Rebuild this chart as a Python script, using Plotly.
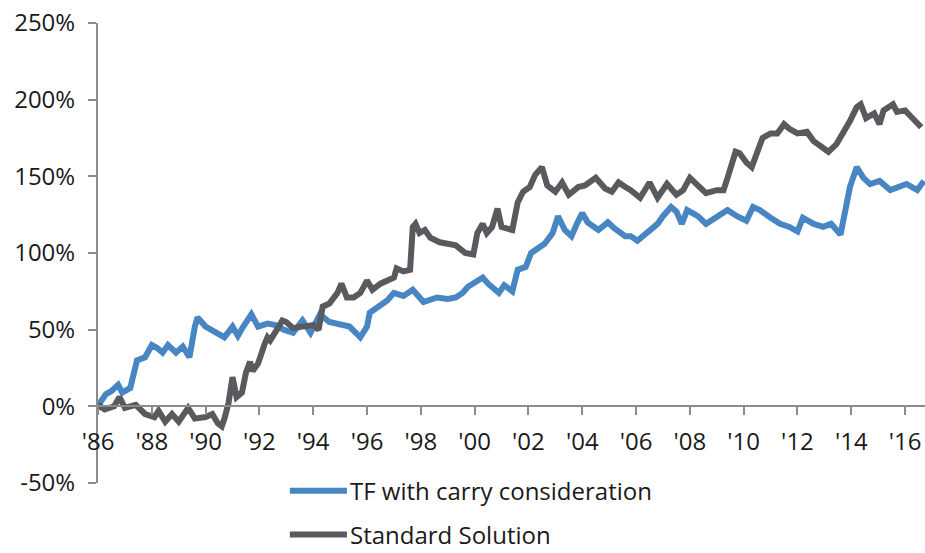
import plotly.graph_objects as go

# Cumulative performance (%), sampled through time (decimal years)
tf_years = [1986.0, 1986.1, 1986.3, 1986.5, 1986.75, 1986.9, 1987.2, 1987.3, 1987.45, 1987.75,
            1988.0, 1988.2, 1988.4, 1988.6, 1988.9, 1989.15, 1989.4, 1989.6, 1989.7, 1990.0,
            1990.35, 1990.7, 1991.0, 1991.2, 1991.4, 1991.7, 1991.95, 1992.3, 1992.6, 1992.9,
            1993.25, 1993.6, 1993.9, 1994.25, 1994.6, 1995.0, 1995.35, 1995.75, 1996.0, 1996.1,
            1996.5, 1996.75, 1997.0, 1997.35, 1997.7, 1998.1, 1998.6, 1999.0, 1999.3, 1999.55,
            1999.75, 2000.0, 2000.3, 2000.5, 2000.9, 2001.1, 2001.4, 2001.6, 2001.9, 2002.1,
            2002.35, 2002.6, 2002.9, 2003.1, 2003.35, 2003.6, 2003.8, 2004.0, 2004.2, 2004.6,
            2004.95, 2005.2, 2005.6, 2005.8, 2006.05, 2006.3, 2006.5, 2006.8, 2007.0, 2007.3,
            2007.5, 2007.7, 2007.9, 2008.3, 2008.6, 2009.0, 2009.4, 2009.75, 2010.1, 2010.35,
            2010.6, 2011.0, 2011.35, 2011.7, 2012.0, 2012.2, 2012.6, 2012.95, 2013.25, 2013.6,
            2013.7, 2013.95, 2014.2, 2014.45, 2014.7, 2015.05, 2015.45, 2015.8, 2016.05, 2016.45,
            2016.7]
tf_values = [-2, 3, 8, 10, 14, 9, 12, 18, 30, 32,
             40, 38, 35, 40, 35, 39, 32, 52, 58, 52,
             48, 45, 52, 46, 52, 60, 52, 54, 53, 50,
             48, 56, 48, 60, 55, 53, 52, 45, 52, 61,
             66, 69, 74, 72, 76, 68, 71, 70, 71, 74,
             78, 81, 84, 80, 74, 79, 75, 89, 91, 100,
             103, 106, 113, 124, 115, 111, 119, 126, 120, 115,
             120, 116, 111, 111, 108, 112, 115, 119, 124, 130,
             127, 119, 128, 124, 119, 124, 128, 124, 121, 130,
             128, 123, 119, 117, 114, 123, 119, 117, 119, 112,
             121, 143, 156, 149, 145, 147, 141, 143, 145, 141,
             147]

std_years = [1986.0, 1986.25, 1986.6, 1986.8, 1987.0, 1987.4, 1987.75, 1988.1, 1988.25, 1988.5,
             1988.75, 1989.0, 1989.35, 1989.6, 1990.0, 1990.25, 1990.45, 1990.6, 1990.7, 1990.85,
             1991.0, 1991.15, 1991.35, 1991.5, 1991.65, 1991.75, 1991.95, 1992.1, 1992.2, 1992.3,
             1992.4, 1992.65, 1992.85, 1993.0, 1993.25, 1993.6, 1994.0, 1994.2, 1994.35, 1994.6,
             1994.9, 1995.05, 1995.25, 1995.5, 1995.75, 1996.0, 1996.2, 1996.5, 1996.75, 1997.0,
             1997.1, 1997.35, 1997.6, 1997.7, 1997.8, 1997.95, 1998.15, 1998.35, 1998.7, 1999.1,
             1999.3, 1999.65, 1999.95, 2000.1, 2000.3, 2000.45, 2000.65, 2000.85, 2001.0, 2001.4,
             2001.6, 2001.8, 2002.05, 2002.25, 2002.5, 2002.7, 2003.0, 2003.25, 2003.5, 2003.85,
             2004.1, 2004.5, 2004.85, 2005.1, 2005.35, 2005.6, 2005.8, 2006.15, 2006.5, 2006.8,
             2007.15, 2007.5, 2007.75, 2008.0, 2008.25, 2008.6, 2009.0, 2009.25, 2009.4, 2009.7,
             2009.85, 2010.1, 2010.3, 2010.5, 2010.7, 2011.0, 2011.25, 2011.5, 2011.7, 2012.0,
             2012.35, 2012.6, 2012.95, 2013.15, 2013.45, 2013.7, 2013.95, 2014.2, 2014.35, 2014.55,
             2014.85, 2015.05, 2015.2, 2015.55, 2015.7, 2016.0, 2016.3, 2016.6]
std_values = [1, -2, 0, 6, -1, 1, -5, -7, -3, -10,
              -5, -10, -1, -8, -7, -5, -11, -13, -8, 2,
              19, 6, 9, 22, 29, 23, 28, 37, 41, 45,
              43, 50, 56, 55, 51, 52, 53, 50, 65, 67,
              74, 80, 71, 71, 74, 82, 76, 80, 82, 84,
              90, 88, 89, 117, 119, 113, 115, 110, 107, 105,
              105, 100, 99, 113, 119, 113, 117, 129, 117, 115,
              133, 140, 143, 151, 156, 144, 140, 146, 138, 143,
              144, 149, 142, 140, 146, 143, 141, 136, 146, 136,
              145, 138, 141, 149, 145, 139, 141, 141, 149, 166,
              165, 159, 156, 167, 175, 178, 178, 184, 181, 178,
              179, 173, 169, 166, 171, 178, 186, 195, 197, 188,
              191, 184, 193, 197, 192, 193, 188, 182]

x_tick_years = list(range(1986, 2017, 2))
x_tick_labels = ["'" + str(y)[2:] for y in x_tick_years]
y_tick_values = [-50, 0, 50, 100, 150, 200, 250]
y_tick_labels = [f"{v}%" for v in y_tick_values]

series_names = ["TF with carry consideration", "Standard Solution"]

BLUE = "#4786c3"
GREY = "#5a5a5e"
AXIS = "#8c8c8c"
FONT = "Open Sans"
TEXT = "#1a1a1a"
FS = 24

fig = go.Figure()
fig.add_trace(go.Scatter(x=tf_years, y=tf_values, mode="lines", name=series_names[0],
                         line=dict(color=BLUE, width=6)))
fig.add_trace(go.Scatter(x=std_years, y=std_values, mode="lines", name=series_names[1],
                         line=dict(color=GREY, width=6)))

# Legend drawn below the plot area (line sample + label), stacked vertically
legend_rows = [(series_names[0], BLUE, -0.017), (series_names[1], GREY, -0.112)]
for label, color, ly in legend_rows:
    fig.add_shape(type="line", xref="paper", yref="paper",
                  x0=0.232, x1=0.301, y0=ly, y1=ly,
                  line=dict(color=color, width=6))
    fig.add_annotation(xref="paper", yref="paper", x=0.304, y=ly,
                       xanchor="left", yanchor="middle", showarrow=False,
                       borderpad=0,
                       text=label, font=dict(family=FONT, size=FS, color=TEXT))

fig.update_layout(
    width=925, height=553,
    margin=dict(l=98, r=0, t=23, b=70),
    paper_bgcolor="white", plot_bgcolor="white",
    font=dict(family=FONT, size=FS, color=TEXT),
    showlegend=False,
    xaxis=dict(range=[1986, 2016.74], tickvals=x_tick_years, ticktext=x_tick_labels,
               anchor="free", position=1/6, showline=True, linecolor=AXIS, linewidth=2,
               ticks="outside", ticklen=8, tickwidth=2, tickcolor=AXIS,
               showgrid=False, zeroline=False, ticklabelstandoff=6),
    yaxis=dict(range=[-50, 250], tickvals=y_tick_values, ticktext=y_tick_labels,
               showline=True, linecolor=AXIS, linewidth=2,
               ticks="outside", ticklen=8, tickwidth=2, tickcolor=AXIS,
               showgrid=False, zeroline=False, ticklabelstandoff=8),
)

fig.write_html("out.html")
